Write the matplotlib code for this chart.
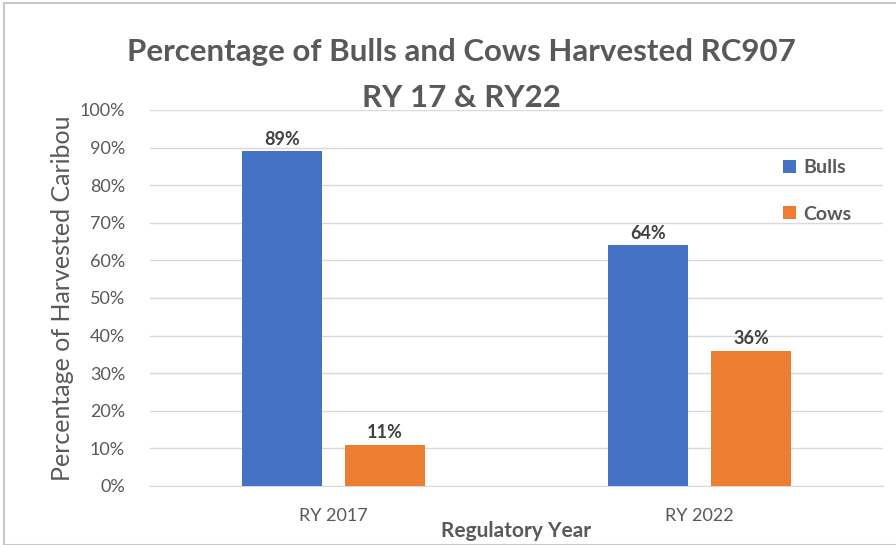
import numpy as np
import matplotlib.pyplot as plt
from matplotlib.patches import Rectangle

years = ["RY 2017", "RY 2022"]
bulls = [89, 64]
cows = [11, 36]

plt.rcParams['font.family'] = ['Lato', 'DejaVu Sans']
grey = "#595959"

fig = plt.figure(figsize=(8.96, 5.45), dpi=100)
ax = fig.add_axes([150 / 896, 1 - 486 / 545, (883 - 150) / 896, (486 - 110) / 545])

x = np.arange(len(years))
w = 0.218
off = 0.14
b1 = ax.bar(x - off, bulls, w, color="#4472C4", label="Bulls", zorder=3)
b2 = ax.bar(x + off, cows, w, color="#ED7D31", label="Cows", zorder=3)

for bars, vals in [(b1, bulls), (b2, cows)]:
    for r, v in zip(bars, vals):
        ax.text(r.get_x() + r.get_width() / 2, v + 1, f"{v}%", ha="center", va="bottom",
                fontsize=13, fontweight="bold", color="#404040")

ax.set_xlim(-0.5, 1.5)
ax.set_ylim(0, 100)
ax.set_yticks(np.arange(0, 101, 10))
ax.set_yticklabels([f"{t}%" for t in range(0, 101, 10)])
ax.set_xticks(x)
ax.set_xticklabels(years)
ax.tick_params(axis="both", length=0, labelsize=13, labelcolor=grey)
ax.tick_params(axis="y", pad=18)
ax.tick_params(axis="x", pad=16)
ax.grid(axis="y", color="#d9d9d9", linewidth=1, zorder=0)
for s in ["top", "right", "left"]:
    ax.spines[s].set_visible(False)
ax.spines["bottom"].set_color("#d9d9d9")

ax.set_ylabel("Percentage of Harvested Caribou", fontsize=18, color=grey, labelpad=4)
ax.set_xlabel("Regulatory Year", fontsize=15, color=grey, fontweight="bold", labelpad=-2)

fig.text(461 / 896, 1 - 52 / 545, "Percentage of Bulls and Cows Harvested RC907", ha="center", va="center",
         fontsize=22.5, fontweight="bold", color=grey)
fig.text(461 / 896, 1 - 98 / 545, "RY 17 & RY22", ha="center", va="center",
         fontsize=22.5, fontweight="bold", color=grey)

leg = ax.legend(loc="upper left", bbox_to_anchor=(0.84, 0.915), frameon=False, fontsize=14,
                handlelength=0.65, handleheight=0.65, labelspacing=1.5, handletextpad=0.4)
for t in leg.get_texts():
    t.set_color(grey)
    t.set_fontweight("bold")

fig.patches.append(Rectangle((4 / 896, 0), 1, 1 - 3 / 545, transform=fig.transFigure,
                             fill=False, edgecolor="#c8c8c8", linewidth=1.5))

fig.savefig("out.png", dpi=100)
